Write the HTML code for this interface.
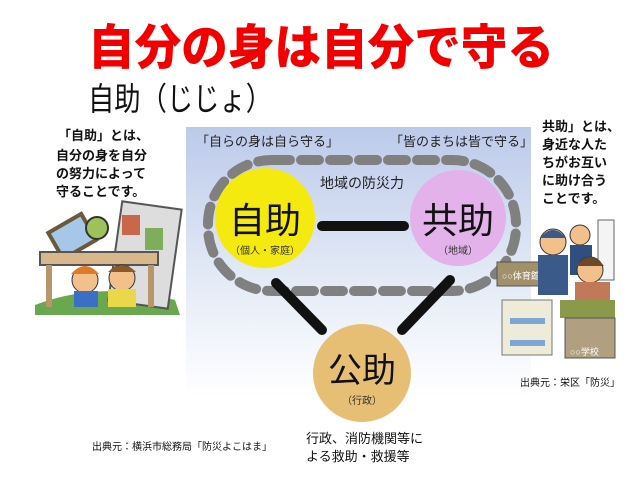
<!DOCTYPE html>
<html><head><meta charset="utf-8"><style>
html,body{margin:0;padding:0;background:#fff;}
body{width:640px;height:478px;overflow:hidden;position:relative;font-family:"Liberation Sans","Noto Sans CJK JP",sans-serif;}
svg text{font-family:"Liberation Sans","Noto Sans CJK JP",sans-serif;}
</style></head><body>
<svg width="640" height="478" viewBox="0 0 640 478" xmlns="http://www.w3.org/2000/svg">
<defs>
<linearGradient id="bg" x1="0" y1="0" x2="0" y2="1">
<stop offset="0" stop-color="#bccaea"/><stop offset="0.55" stop-color="#e3eaf6"/><stop offset="1" stop-color="#ffffff"/>
</linearGradient>
</defs>
<rect x="186" y="127" width="345" height="270" fill="url(#bg)"/>
<text x="88" y="64" font-size="48" font-weight="900" fill="#f20000" textLength="466" lengthAdjust="spacingAndGlyphs">自分の身は自分で守る</text>
<text x="88" y="110" font-size="32" fill="#111" textLength="184" lengthAdjust="spacingAndGlyphs">自助（じじょ）</text>

<text x="196" y="146" font-size="13" fill="#222">「自らの身は自ら守る」</text>
<text x="390" y="146" font-size="13" fill="#222">「皆のまちは皆で守る」</text>

<rect x="208" y="160" width="308" height="131" rx="64" fill="none" stroke="#808080" stroke-width="10" stroke-dasharray="18 11" stroke-linecap="round"/>
<text x="362" y="188" font-size="14" fill="#222" text-anchor="middle">地域の防災力</text>

<line x1="322" y1="226" x2="404" y2="226" stroke="#111" stroke-width="10" stroke-linecap="round"/>
<line x1="276" y1="283" x2="322" y2="330" stroke="#111" stroke-width="10" stroke-linecap="round"/>
<line x1="450" y1="280" x2="402" y2="330" stroke="#111" stroke-width="10" stroke-linecap="round"/>

<circle cx="265" cy="218" r="50" fill="#f5ea10"/>
<text x="265" y="233" font-size="36" fill="#111" text-anchor="middle">自助</text>
<text x="265" y="254" font-size="10" fill="#333" text-anchor="middle">（個人・家庭）</text>

<circle cx="458" cy="218" r="48" fill="#e3b2ea"/>
<text x="458" y="233" font-size="36" fill="#111" text-anchor="middle">共助</text>
<text x="458" y="254" font-size="10" fill="#333" text-anchor="middle">（地域）</text>

<circle cx="362" cy="373" r="49" fill="#e7bf74"/>
<text x="362" y="382" font-size="34" fill="#111" text-anchor="middle">公助</text>
<text x="362" y="404" font-size="10" fill="#333" text-anchor="middle">（行政）</text>

<text x="306" y="443" font-size="13" fill="#111">行政、消防機関等に</text>
<text x="306" y="461" font-size="13" fill="#111">よる救助・救援等</text>
<text x="92" y="450" font-size="10" fill="#111">出典元：横浜市総務局「防災よこはま」</text>
<text x="520" y="386" font-size="10" fill="#111">出典元：栄区「防災」</text>

<g font-size="13" font-weight="bold" fill="#111">
<text x="58" y="140">「自助」とは、</text>
<text x="56" y="160">自分の身を自分</text>
<text x="56" y="178">の努力によって</text>
<text x="56" y="196">守ることです。</text>
<text x="542" y="131">共助」とは、</text>
<text x="542" y="149">身近な人た</text>
<text x="542" y="167">ちがお互い</text>
<text x="542" y="185">に助け合う</text>
<text x="542" y="203">ことです。</text>
</g>

<g>
<path d="M35 305 Q100 280 175 300 L180 315 L35 315 Z" fill="#6aa84f"/>
<rect x="115" y="205" width="60" height="100" fill="#ddd" stroke="#555" stroke-width="2" transform="rotate(8 145 255)"/>
<rect x="122" y="215" width="18" height="20" fill="#c9674a"/><rect x="145" y="228" width="18" height="22" fill="#7fae5a"/>
<rect x="55" y="222" width="38" height="30" fill="#a7c7e8" stroke="#6a5a3a" stroke-width="4" transform="rotate(-30 72 240)"/>
<circle cx="97" cy="228" r="11" fill="#9dc25a" stroke="#333" stroke-width="2"/>
<rect x="40" y="252" width="118" height="13" fill="#d8b88a" stroke="#555" stroke-width="2"/>
<rect x="46" y="265" width="6" height="42" fill="#b8956a"/><rect x="148" y="265" width="6" height="42" fill="#b8956a"/>
<circle cx="85" cy="280" r="13" fill="#f2c08a" stroke="#333"/>
<path d="M71 274 Q85 258 99 274 Z" fill="#e07a2a"/>
<circle cx="122" cy="278" r="13" fill="#f2c08a" stroke="#333"/>
<path d="M108 272 Q122 258 136 272 Z" fill="#8a5a2a"/>
<rect x="74" y="291" width="24" height="16" fill="#3b6fc4"/>
<rect x="108" y="289" width="28" height="18" fill="#e8d84a"/>
</g>

<g>
<rect x="497" y="262" width="52" height="24" fill="#a0916a" stroke="#555"/>
<text x="502" y="279" font-size="9" fill="#fff">○○体育館</text>
<circle cx="553" cy="242" r="13" fill="#f2c08a" stroke="#333"/>
<path d="M540 238 Q553 222 566 238 Z" fill="#3a5a8a"/>
<rect x="538" y="255" width="30" height="40" fill="#3a5a8a"/>
<circle cx="580" cy="235" r="10" fill="#f2c08a" stroke="#333"/>
<rect x="570" y="245" width="22" height="30" fill="#2f4f7f"/>
<rect x="598" y="220" width="16" height="60" fill="#f4f4f4" stroke="#666"/>
<circle cx="590" cy="270" r="13" fill="#f2c08a" stroke="#333"/>
<path d="M576 266 Q590 248 604 266 Z" fill="#6a4a2a"/>
<rect x="575" y="282" width="35" height="22" fill="#c07a5a"/>
<rect x="502" y="300" width="50" height="55" fill="#eeebd8" stroke="#777"/>
<rect x="510" y="318" width="35" height="6" fill="#7aa6d8"/>
<rect x="510" y="340" width="35" height="6" fill="#7aa6d8"/>
<rect x="560" y="300" width="55" height="18" fill="#8a9a4a"/>
<rect x="565" y="318" width="50" height="40" fill="#b0a080" stroke="#555"/>
<text x="570" y="355" font-size="9" fill="#fff">○○学校</text>
</g>
</svg>
</body></html>
